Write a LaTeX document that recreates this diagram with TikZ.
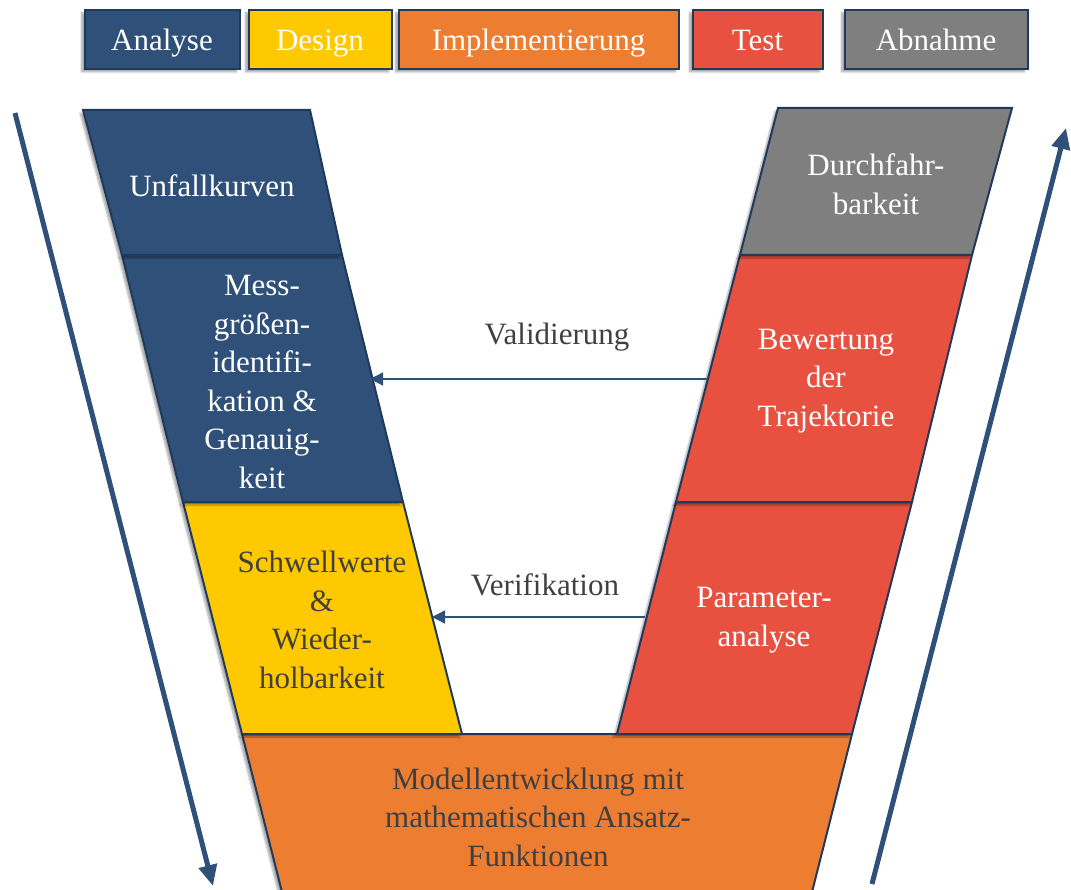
\documentclass[tikz,border=0pt]{standalone}
\usepackage{fontspec}
\setmainfont{Liberation Serif}
\usetikzlibrary{arrows.meta,shadows.blur}
\definecolor{cblue}{HTML}{2F5079}
\definecolor{cyellow}{HTML}{FFC900}
\definecolor{corange}{HTML}{ED7D31}
\definecolor{cred}{HTML}{E85140}
\definecolor{cgrey}{HTML}{7F7F7F}
\definecolor{cnavy}{HTML}{203A5C}
\definecolor{ctext}{HTML}{404040}
\tikzset{
  phase/.style={draw=cnavy, line width=2pt, line join=miter,
    blur shadow={shadow xshift=-3pt, shadow yshift=-3pt, shadow blur steps=6, shadow opacity=35}},
  legend/.style={phase, minimum height=59pt, inner sep=0pt, text=white,
    text height=22pt, text depth=0pt,
    font=\fontsize{31}{38.5}\selectfont},
  boxtext/.style={align=center, font=\fontsize{31}{38.5}\selectfont, inner sep=0pt},
  flow/.style={cblue, line width=5pt, -{Triangle[length=21pt,width=18pt]}},
  check/.style={cblue, line width=1.3pt, -{Triangle[length=13pt,width=13pt]}},
  checklabel/.style={text=ctext, font=\fontsize{31}{38.5}\selectfont, inner sep=0pt}
}
\begin{document}
\begin{tikzpicture}[x=1pt,y=-1pt]
\useasboundingbox (0,0) rectangle (1071,890);
\begin{scope}
\clip (0,0) rectangle (1071,890);
% legend
\node[legend, fill=cblue, minimum width=155pt] (lA) at (162,39.5) {Analyse};
\node[legend, fill=cyellow, minimum width=143pt] (lD) at (320,39.5) {Design};
\node[legend, fill=corange, minimum width=280pt] (lI) at (538.5,39.5) {Implementierung};
\node[legend, fill=cred, minimum width=130pt] (lT) at (757.5,39.5) {Test};
\node[legend, fill=cgrey, minimum width=183pt] (lB) at (936,39.5) {Abnahme};

% big flow arrows
\coordinate (fl1) at (15,113);
\coordinate (fl2) at (213,886);
\coordinate (fr1) at (872,884);
\coordinate (fr2) at (1066,128);
\draw[flow] (fl1) -- (fl2);
\draw[flow] (fr1) -- (fr2);

% bottom: orange
\path[phase, fill=corange] (242,734) -- (852,734) -- (810,900) -- (284,900) -- cycle;
% left column
\path[phase, fill=cyellow] (183,502) -- (403,502) -- (462,734) -- (242,734) -- cycle;
\path[phase, fill=cblue] (122,255) -- (342,255) -- (403,502) -- (183,502) -- cycle;
\path[phase, fill=cblue] (83,110) -- (310,110) -- (342,255) -- (122,255) -- cycle;
% right column
\path[phase, fill=cred] (676,502) -- (912,502) -- (852,734) -- (617,734) -- cycle;
\path[phase, fill=cred] (740,255) -- (972,255) -- (912,502) -- (676,502) -- cycle;
\path[phase, fill=cgrey] (778,108) -- (1012,108) -- (972,255) -- (740,255) -- cycle;

% texts
\node[boxtext, text=white] (t1) at (212,186) {Unfallkurven};
\node[boxtext, text=white] (t2) at (262,382) {Mess-\\größen-\\identifi-\\kation \&\\Genauig-\\keit};
\node[boxtext, text=ctext] (t3) at (322,620) {Schwellwerte\\\&\\Wieder-\\holbarkeit};
\node[boxtext, text=ctext] (t4) at (538,817) {Modellentwicklung mit\\mathematischen Ansatz-\\Funktionen};
\node[boxtext, text=white] (t5) at (876,184) {Durchfahr-\\barkeit};
\node[boxtext, text=white] (t6) at (826,381) {Bewertung\\der\\Trajektorie};
\node[boxtext, text=white] (t7) at (764,620) {Parameter-\\analyse};

% validation / verification
\coordinate (vR) at (708,379);
\coordinate (vL) at (370,379);
\coordinate (wR) at (645,617);
\coordinate (wL) at (432,617);
\draw[check] (vR) -- (vL);
\draw[check] (wR) -- (wL);
\node[checklabel] (val) at (557,337) {Validierung};
\node[checklabel] (ver) at (545,585) {Verifikation};
\end{scope}
\end{tikzpicture}
\end{document}
